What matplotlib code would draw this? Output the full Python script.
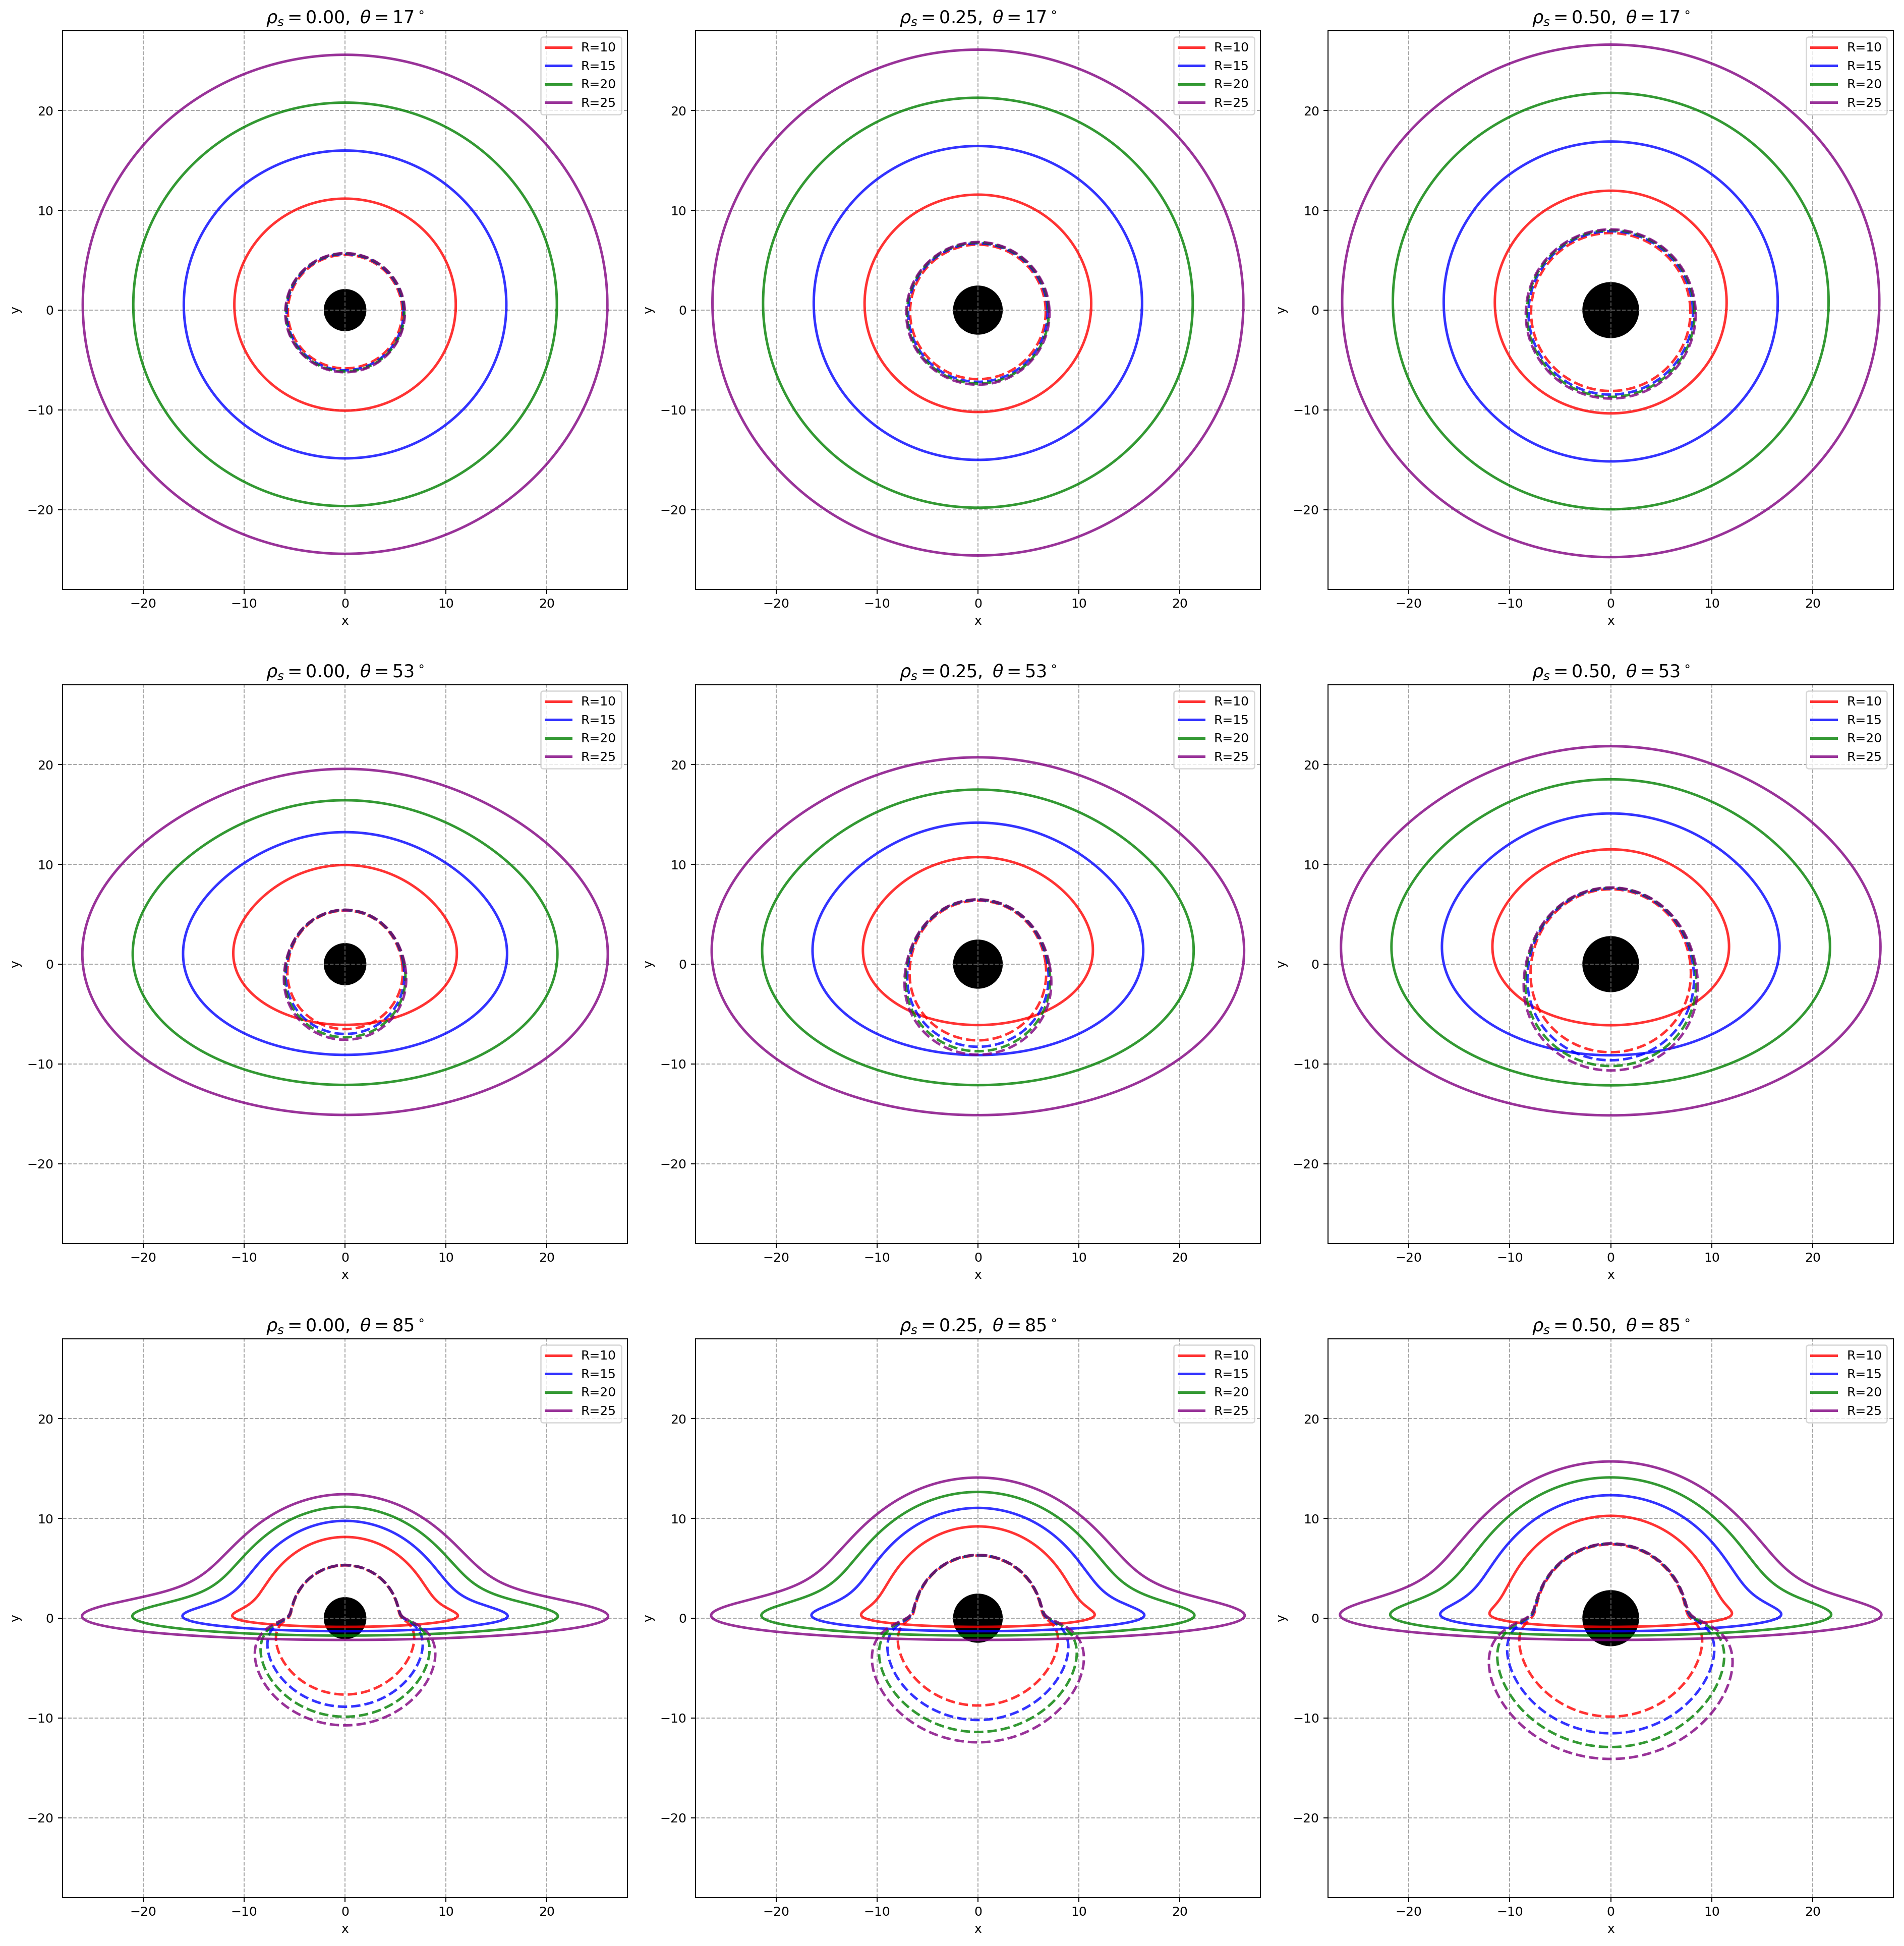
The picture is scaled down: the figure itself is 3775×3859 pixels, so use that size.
import numpy as np
import matplotlib
matplotlib.use("Agg")
import matplotlib.pyplot as plt
from matplotlib.patches import Circle


# -------- DATA --------
RHO_S = [0.00, 0.25, 0.50]
THETA_DEG = [17, 53, 85]
RADII = [10, 15, 20, 25]
COLORS = ["red", "blue", "green", "purple"]
# radius of the black disk in each column
DISK_RADIUS = [2.05, 2.40, 2.75]

# mass function m(r) = BH_MASS + rho_s * HALO_AMP * r / (r + HALO_SCALE)
BH_MASS = 1.0
HALO_AMP = 1.46
HALO_SCALE = 3.5

# -------- NUMERICS --------
D_PHI = 0.004
PHI_MAX = 2 * np.pi + 0.05
B_GRID = np.linspace(0.02, 40.0, 2000)
ALPHA = np.linspace(0.0, 2 * np.pi, 2401)
LIM = 28
DPI = 180


def horizon_radius(rho):
    c = rho * HALO_AMP
    r = 2.0 * BH_MASS
    for _ in range(200):
        r = 2.0 * (BH_MASS + c * r / (r + HALO_SCALE))
    return r


def photon_table(rho):
    # Binet equation u'' = -u + 3 m u^2 - u m'(r), traced back from the observer
    c = rho * HALO_AMP
    a = HALO_SCALE
    u_h = 1.0 / horizon_radius(rho)

    def acc(u):
        s = 1.0 + a * u
        return -u + 3 * BH_MASS * u ** 2 + 3 * c * u ** 2 / s - c * a * u ** 3 / s ** 2

    n_steps = int(PHI_MAX / D_PHI) + 2
    table = np.zeros((n_steps, B_GRID.size))
    u = np.zeros(B_GRID.size)
    v = 1.0 / B_GRID
    captured = np.zeros(B_GRID.size, dtype=bool)
    escaped = np.zeros(B_GRID.size, dtype=bool)
    h = D_PHI
    for i in range(1, n_steps):
        k1u, k1v = v, acc(u)
        k2u, k2v = v + 0.5 * h * k1v, acc(u + 0.5 * h * k1u)
        k3u, k3v = v + 0.5 * h * k2v, acc(u + 0.5 * h * k2u)
        k4u, k4v = v + h * k3v, acc(u + h * k3u)
        u = u + h / 6 * (k1u + 2 * k2u + 2 * k3u + k4u)
        v = v + h / 6 * (k1v + 2 * k2v + 2 * k3v + k4v)
        captured |= (u >= u_h) & ~escaped
        escaped |= (u <= 0) & ~captured
        u = np.where(captured, u_h, np.where(escaped, 0.0, u))
        v = np.where(captured | escaped, 0.0, v)
        table[i] = u
    return table


def image_u(table, theta, order):
    # inverse radius hit on the disk, for every screen angle and impact parameter
    inc = np.radians(theta)
    phi = np.pi / 2 + np.arctan(np.sin(ALPHA) * np.tan(inc)) + order * np.pi
    pos = phi / D_PHI
    i0 = np.floor(pos).astype(int)
    f = (pos - i0)[:, None]
    return table[i0] * (1 - f) + table[i0 + 1] * f


def impact_parameter(u_at, radius):
    target = 1.0 / radius
    below = u_at < target
    j = np.argmax(below, axis=1)
    ok = below.any(axis=1) & (j > 0)
    j = np.clip(j, 1, None)
    rows = np.arange(u_at.shape[0])
    u0 = u_at[rows, j - 1]
    u1 = u_at[rows, j]
    b0 = B_GRID[j - 1]
    b1 = B_GRID[j]
    with np.errstate(divide="ignore", invalid="ignore"):
        b = b0 + (u0 - target) * (b1 - b0) / (u0 - u1)
    b[~ok] = np.nan
    return b


if __name__ == "__main__":
    tables = [photon_table(rho) for rho in RHO_S]

    fig, axes = plt.subplots(3, 3, figsize=(3775 / DPI, 3859 / DPI), dpi=DPI)
    fig.subplots_adjust(left=0.0328, right=0.9944, bottom=0.0249, top=0.9842,
                        wspace=0.1196, hspace=0.1706)

    for row, theta in enumerate(THETA_DEG):
        for col, rho in enumerate(RHO_S):
            ax = axes[row, col]
            direct = image_u(tables[col], theta, 0)
            ghost = image_u(tables[col], theta, 1)

            for radius, color in zip(RADII, COLORS):
                b = impact_parameter(direct, radius)
                ax.plot(b * np.cos(ALPHA), b * np.sin(ALPHA), color=color,
                        lw=2, alpha=0.8, label=f"R={radius}")
                b2 = impact_parameter(ghost, radius)
                ax.plot(b2 * np.cos(ALPHA), b2 * np.sin(ALPHA), color=color,
                        lw=2, ls="--", alpha=0.8)

            ax.add_patch(Circle((0, 0), DISK_RADIUS[col], color="black"))
            ax.set_xlim(-LIM, LIM)
            ax.set_ylim(-LIM, LIM)
            ax.set_title(rf"$\rho_s={rho:.2f},\ \theta={theta}^\circ$", fontsize=14)
            ax.set_xlabel("x")
            ax.set_ylabel("y")
            ax.grid(True, linestyle="--", color="gray", alpha=0.7)
            ax.legend(loc="upper right")

    fig.savefig("out.png", dpi=DPI)
